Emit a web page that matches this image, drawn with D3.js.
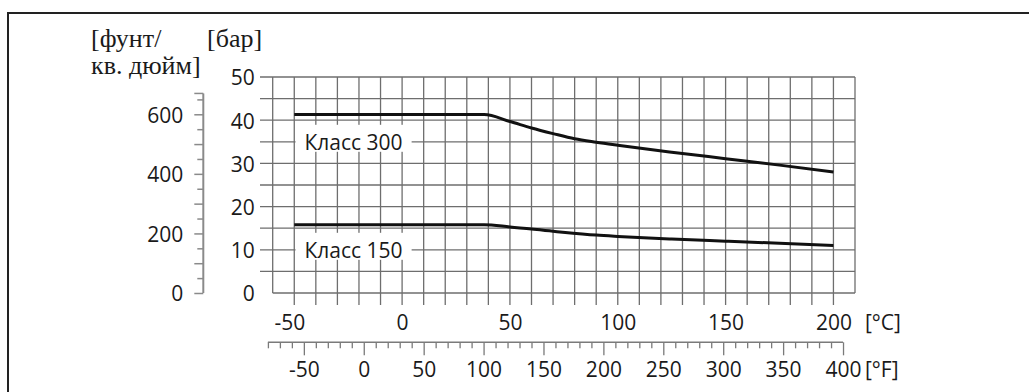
<!DOCTYPE html>
<html><head><meta charset="utf-8">
<script src="https://cdn.jsdelivr.net/npm/d3@7"></script>
<style>
html,body{margin:0;padding:0;background:#fff;}
svg{display:block;}
.num{font-family:"Open Sans",sans-serif;font-size:21px;fill:#1a1a1a;}
.ser{font-family:"Liberation Serif",serif;font-size:26px;fill:#1a1a1a;}
</style></head><body>
<svg id="c" width="1029" height="392"></svg>
<script>
// ---- data ----
const tempC300 = [-50, 38, 50, 60, 70, 80, 90, 100, 125, 150, 175, 200];
const bar300   = [41.3, 41.3, 39.7, 38.2, 36.9, 35.7, 34.9, 34.2, 32.6, 31.1, 29.6, 28.0];
const tempC150 = [-50, 38, 50, 70, 90, 100, 125, 150, 175, 200];
const bar150   = [15.8, 15.8, 15.3, 14.3, 13.4, 13.1, 12.5, 12.0, 11.5, 11.0];
const seriesLabels = ["Класс 300", "Класс 150"];
const labelBar = [35, 10];
const labelTempC = [-22.5, -22.5];
const tickC = [-50, 0, 50, 100, 150, 200];
const tickF = [-50, 0, 50, 100, 150, 200, 250, 300, 350, 400];
const tickBar = [0, 10, 20, 30, 40, 50];
const tickPsi = [0, 200, 400, 600];
const unitPsi = ["[фунт/", "кв. дюйм]"];
const unitBar = "[бар]";
const unitC = "[°C]";
const unitF = "[°F]";

const svg = d3.select("#c");
const gridCol = "#6e6e6e";
const fmt = d => String(d);

svg.append("rect").attr("x", 8).attr("y", 13).attr("width", 1040).attr("height", 400)
  .attr("fill", "none").attr("stroke", "#222").attr("stroke-width", 2);

const x = d3.scaleLinear().domain([-60, 210]).range([272.7, 855]);
const y = d3.scaleLinear().domain([0, 50]).range([293, 77]);
const yPsi = d3.scaleLinear().domain([0, 50 * 14.5038]).range([293, 77]);
const xF = d3.scaleLinear().domain([-60 * 1.8 + 32, 210 * 1.8 + 32]).range([272.7, 855]);

// grid
const g = svg.append("g");
const hLines = d3.range(0, 51, 5);
g.selectAll(".h").data(hLines).join("line")
  .attr("x1", d => d === 0 ? x(-60) : 260).attr("x2", x(210))
  .attr("y1", d => y(d)).attr("y2", d => y(d))
  .attr("stroke", gridCol).attr("stroke-width", 1.3);
const vLines = d3.range(-60, 211, 10);
g.selectAll(".v").data(vLines).join("line")
  .attr("x1", d => x(d)).attr("x2", d => x(d))
  .attr("y1", y(50)).attr("y2", d => (d >= -50 && d <= 200) ? y(0) + 12 : y(0))
  .attr("stroke", gridCol).attr("stroke-width", 1.3);

// bar axis labels
const barAxis = d3.axisLeft(y).tickValues(tickBar).tickSize(0).tickPadding(18).tickFormat(fmt);
const ga = svg.append("g").attr("transform", `translate(${x(-60)},0)`).call(barAxis);
ga.select(".domain").remove();
ga.selectAll("text").attr("class", "num").attr("font-size", null).attr("font-family", null)
  .attr("dy", "0.38em");

// psi axis
const psiAll = d3.range(0, 651, 50);
const psiAxis = d3.axisLeft(yPsi).tickValues(psiAll).tickSize(9).tickPadding(11)
  .tickFormat(d => tickPsi.includes(d) ? fmt(d) : "");
const gp = svg.append("g").attr("transform", "translate(203.3,0)").call(psiAxis);
gp.select(".domain").remove();
gp.selectAll(".tick line").attr("stroke", "#8a8a8a").attr("stroke-width", 1.5)
  .attr("x2", d => d % 100 === 0 ? -9 : -6);
gp.selectAll("text").attr("class", "num").attr("font-size", null).attr("font-family", null)
  .attr("dy", "0.38em");
gp.append("line").attr("x1", 0).attr("x2", 0).attr("y1", yPsi(0)).attr("y2", yPsi(670))
  .attr("stroke", "#8a8a8a").attr("stroke-width", 2);
gp.append("line").attr("x1", -9).attr("x2", 0).attr("y1", yPsi(670)).attr("y2", yPsi(670))
  .attr("stroke", "#8a8a8a").attr("stroke-width", 1.5);

// C axis labels
const cAxis = d3.axisBottom(x).tickValues(tickC).tickSize(0).tickPadding(0).tickFormat(fmt);
const gc = svg.append("g").attr("transform", `translate(0,${y(0)})`).call(cAxis);
gc.select(".domain").remove();
gc.selectAll("text").attr("class", "num").attr("font-size", null).attr("font-family", null)
  .attr("y", 37).attr("dy", null).attr("dx", d => d < 0 ? -5 : 0);
svg.append("text").attr("class", "num").attr("x", 865).attr("y", 330).text(unitC);

// F axis
const fAll = d3.range(-80, 401, 10);
const fAxis = d3.axisBottom(xF).tickValues(fAll).tickSize(5)
  .tickFormat(d => tickF.includes(d) ? fmt(d) : "");
const gf = svg.append("g").attr("transform", "translate(0,342.3)").call(fAxis);
gf.select(".domain").remove();
gf.selectAll(".tick line").attr("stroke", "#7a7a7a").attr("stroke-width", 1.3)
  .attr("y2", d => d % 50 === 0 ? 13 : 6);
gf.selectAll("text").attr("class", "num").attr("font-size", null).attr("font-family", null)
  .attr("y", 34.4).attr("dy", null);
gf.append("line").attr("x1", xF(-80)).attr("x2", xF(400)).attr("y1", 0).attr("y2", 0)
  .attr("stroke", "#7a7a7a").attr("stroke-width", 1.5);
svg.append("text").attr("class", "num").attr("x", 865).attr("y", 376.7).text(unitF);

// unit titles
svg.append("text").attr("class", "ser").attr("x", 91).attr("y", 47).text(unitPsi[0]);
svg.append("text").attr("class", "ser").attr("x", 91).attr("y", 74).text(unitPsi[1]);
svg.append("text").attr("class", "ser").attr("x", 207).attr("y", 47).text(unitBar);

// curves
const line = d3.line().x(d => x(d[0])).y(d => y(d[1])).curve(d3.curveMonotoneX);
svg.append("path").datum(tempC300.map((t, i) => [t, bar300[i]]))
  .attr("d", line).attr("fill", "none").attr("stroke", "#111").attr("stroke-width", 3);
svg.append("path").datum(tempC150.map((t, i) => [t, bar150[i]]))
  .attr("d", line).attr("fill", "none").attr("stroke", "#111").attr("stroke-width", 3);

// labels with white boxes
seriesLabels.forEach((lab, i) => {
  const gl = svg.append("g");
  const r = gl.append("rect").attr("fill", "#fff");
  const t = gl.append("text").attr("class", "num").attr("text-anchor", "middle")
    .attr("x", x(labelTempC[i])).attr("y", y(labelBar[i])).attr("dy", "0.38em").text(lab);
  const bb = t.node().getBBox();
  r.attr("x", bb.x - 9).attr("y", y(labelBar[i]) - 17).attr("width", bb.width + 18).attr("height", 27);
});
</script></body></html>
